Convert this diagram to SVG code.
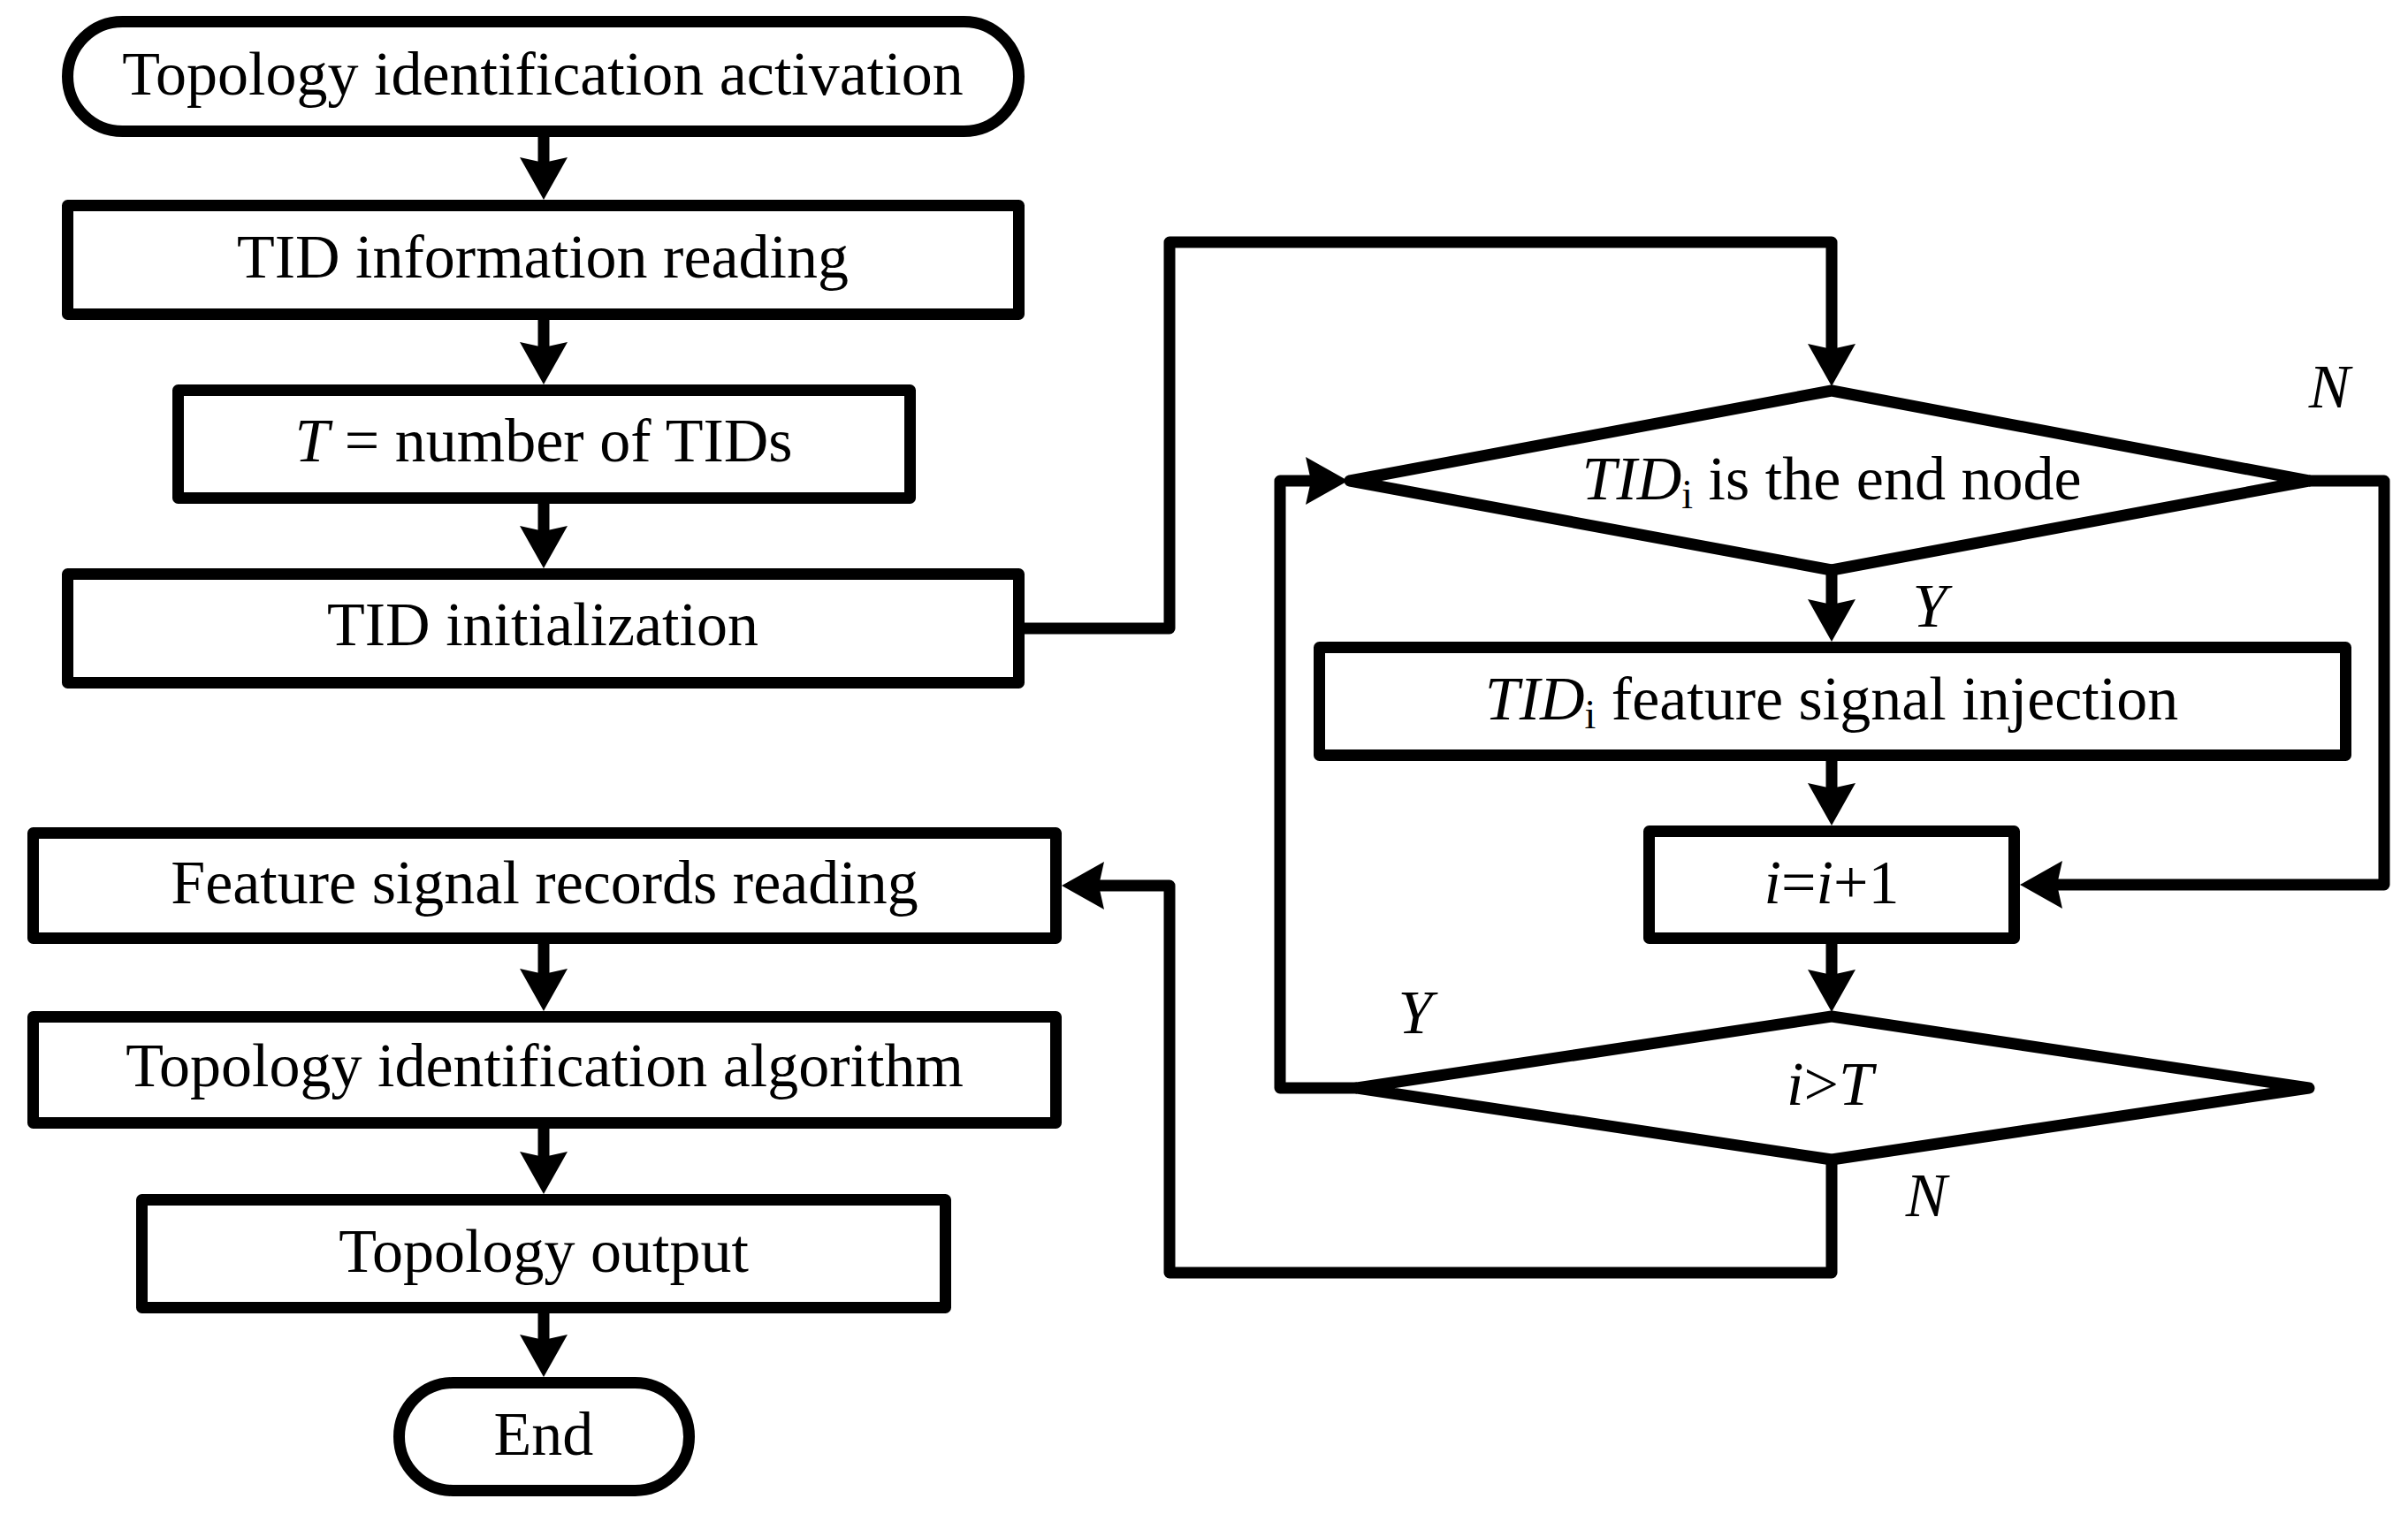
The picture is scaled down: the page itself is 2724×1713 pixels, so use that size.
<svg xmlns="http://www.w3.org/2000/svg" width="2724" height="1713" viewBox="0 0 2724 1713">
<style>
.box{fill:#fff;stroke:#000;stroke-width:13;stroke-linejoin:round}
.dia{fill:#fff;stroke:#000;stroke-width:13;stroke-linejoin:round}
.con{fill:none;stroke:#000;stroke-width:13;stroke-linejoin:round;marker-end:url(#ah)}
.t{font-family:"Liberation Serif","Times New Roman",serif;font-size:70px;fill:#000;text-anchor:middle}
.lbl{font-family:"Liberation Serif","Times New Roman",serif;font-size:70px;font-style:italic;fill:#000;text-anchor:middle}
.it{font-style:italic}
.sub{font-size:46px;font-style:normal}
</style>
<defs>
<marker id="ah" markerUnits="userSpaceOnUse" viewBox="-10 -30 62 60" refX="0" refY="0" markerWidth="62" markerHeight="60" orient="auto">
<path d="M40,0 L-8,-27 L-2,0 L-8,27 Z" fill="#000"/>
</marker>
</defs>
<rect width="2724" height="1713" fill="#fff"/>
<g id="connectors">
<path class="con" d="M615,155 V186"/>
<path class="con" d="M615,362 V395"/>
<path class="con" d="M615,570 V603"/>
<path class="con" d="M1159,711 H1323 V274 H2072 V397"/>
<path class="con" d="M2072,645 V686"/>
<path class="con" d="M2072,861 V894"/>
<path class="con" d="M2072,1068 V1105"/>
<path class="con" d="M2612,544 H2697 V1001 H2325"/>
<path class="con" d="M1535,1231 H1448 V544 H1485"/>
<path class="con" d="M2072,1312 V1440 H1323 V1002 H1241"/>
<path class="con" d="M615,1068 V1104"/>
<path class="con" d="M615,1277 V1311"/>
<path class="con" d="M615,1486 V1518"/>
</g>
<g id="start">
<rect class="box" x="76.5" y="24.5" width="1076" height="124" rx="62" ry="62"/>
<text class="t" x="614" y="107">Topology identification activation</text>
</g>
<g id="tid-info">
<rect class="box" x="76.5" y="232.5" width="1076" height="123"/>
<text class="t" x="614" y="314">TID information reading</text>
</g>
<g id="t-count">
<rect class="box" x="201.5" y="441.5" width="828" height="122"/>
<text class="t" x="615" y="522"><tspan class="it">T</tspan> = number of TIDs</text>
</g>
<g id="tid-init">
<rect class="box" x="76.5" y="649.5" width="1076" height="123"/>
<text class="t" x="614" y="730">TID initialization</text>
</g>
<g id="end-node-check">
<polygon class="dia" points="2072,442 2612,544 2072,645 1527,544"/>
<text class="t" x="2072" y="565"><tspan class="it">TID</tspan><tspan class="sub" dy="10">i</tspan><tspan dy="-10"> is the end node</tspan></text>
</g>
<g id="injection">
<rect class="box" x="1492.5" y="732.5" width="1161" height="122"/>
<text class="t" x="2072" y="814"><tspan class="it">TID</tspan><tspan class="sub" dy="10">i</tspan><tspan dy="-10"> feature signal injection</tspan></text>
</g>
<g id="increment">
<rect class="box" x="1865.5" y="940.5" width="413" height="121"/>
<text class="t" x="2072" y="1022"><tspan class="it">i</tspan>=<tspan class="it">i</tspan>+1</text>
</g>
<g id="compare">
<polygon class="dia" points="2072,1150 2612,1231 2072,1312 1535,1231"/>
<text class="t" x="2070" y="1250"><tspan class="it">i</tspan>&gt;<tspan class="it">T</tspan></text>
</g>
<g id="feature-read">
<rect class="box" x="37.5" y="942.5" width="1157" height="119"/>
<text class="t" x="616" y="1022">Feature signal records reading</text>
</g>
<g id="algorithm">
<rect class="box" x="37.5" y="1150.5" width="1157" height="120"/>
<text class="t" x="616" y="1229">Topology identification algorithm</text>
</g>
<g id="output">
<rect class="box" x="160.5" y="1357.5" width="909" height="122"/>
<text class="t" x="615" y="1439">Topology output</text>
</g>
<g id="end">
<rect class="box" x="451.5" y="1564.5" width="328" height="122" rx="61" ry="61"/>
<text class="t" x="615" y="1646">End</text>
</g>
<g id="labels">
<text class="lbl" x="2635" y="461">N</text>
<text class="lbl" x="2183" y="709">Y</text>
<text class="lbl" x="1601" y="1169">Y</text>
<text class="lbl" x="2179" y="1376">N</text>
</g>
</svg>
